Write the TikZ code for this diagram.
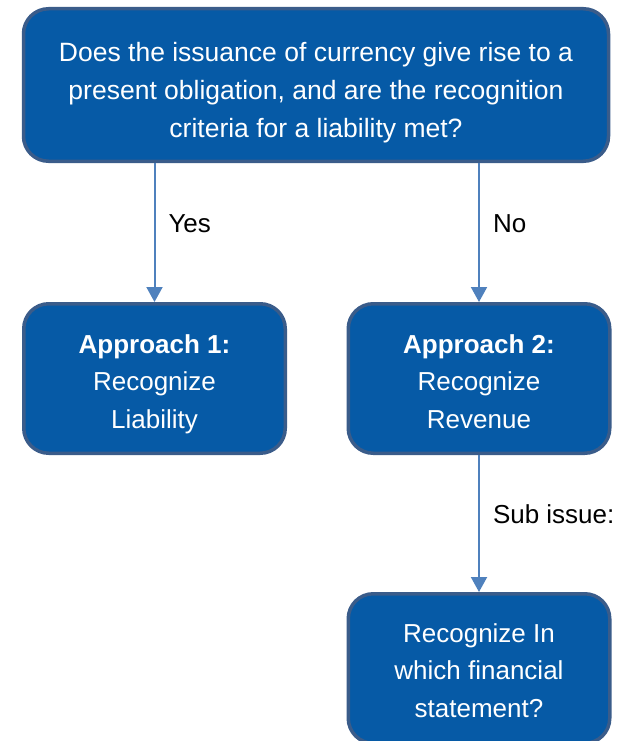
\documentclass[tikz,border=0pt]{standalone}
\usepackage{fontspec}
\setmainfont{Liberation Sans}
\usetikzlibrary{arrows.meta}

\begin{document}
\begin{tikzpicture}[x=1pt,y=-1pt]
\definecolor{boxFill}{RGB}{6,90,166}
\definecolor{boxLine}{RGB}{58,92,138}
\definecolor{arrowColor}{RGB}{79,129,189}
\tikzset{
  flowBox/.style={draw=boxLine, line width=3.5pt, fill=boxFill, rounded corners=25pt, text=white, align=center, inner sep=0pt, text height=99pt, text depth=0pt, font=\fontsize{26}{37.5}\selectfont},
  flowArrow/.style={draw=arrowColor, line width=2pt, -{Triangle[width=16pt,length=15pt]}},
  flowLabel/.style={anchor=base west, inner sep=0pt, xshift=13pt, text=black, font=\fontsize{26}{31}\selectfont}
}
\useasboundingbox (0,0) rectangle (630,741);
\clip (0,0) rectangle (630,741);
% boxes
\node[flowBox, minimum width=585pt, minimum height=152.5pt, text height=106pt, font=\fontsize{26.5}{38}\selectfont] (question) at (316,85)
  {Does the issuance of currency give rise to a\\present obligation, and are the recognition\\criteria for a liability met?};
\node[flowBox, minimum width=261.5pt, minimum height=149.5pt] (liability) at (154.5,378.5)
  {\textbf{Approach 1:}\\Recognize\\Liability};
\node[flowBox, minimum width=261.5pt, minimum height=149.5pt] (revenue) at (479,378.5)
  {\textbf{Approach 2:}\\Recognize\\Revenue};
\node[flowBox, minimum width=261.5pt, minimum height=149.5pt, text height=97pt] (statement) at (479,668.5)
  {Recognize In\\which financial\\statement?};
% connectors
\draw[flowArrow] (question.south -| liability.north) -- node[flowLabel] {Yes} (liability.north);
\draw[flowArrow] (question.south -| revenue.north) -- node[flowLabel] {No} (revenue.north);
\draw[flowArrow] (revenue.south) -- node[flowLabel] {Sub issue:} (statement.north);
\end{tikzpicture}
\end{document}
